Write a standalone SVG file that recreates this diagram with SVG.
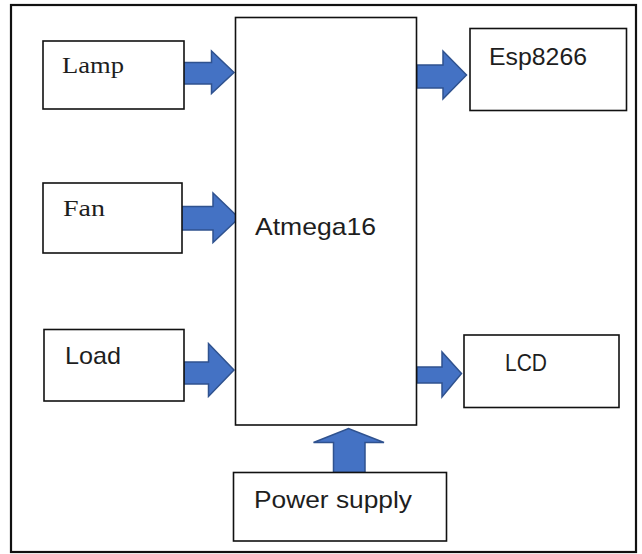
<svg xmlns="http://www.w3.org/2000/svg" width="642" height="554" viewBox="0 0 642 554">
<defs>
<style>
.box{fill:#fff;stroke:#111;stroke-width:1.6}
.frame{fill:#fff;stroke:#111;stroke-width:2.2}
.arr{fill:#4472C4;stroke:#2F528F;stroke-width:1.5;stroke-linejoin:miter}
.serif{font-family:"Liberation Serif","Times New Roman",serif;font-size:24px;fill:#1e1e1e}
.sans{font-family:"Liberation Sans",Arial,sans-serif;font-size:24px;fill:#1e1e1e}
</style>
</defs>
<rect width="642" height="554" fill="#fff"/>
<rect class="frame" x="11" y="5" width="625" height="547"/>
<g id="connectors">
<path class="arr" d="M181,62.5 H211.5 V51 L234,72.5 L211.5,93.5 V84 H181 Z"/>
<path class="arr" d="M178,206.5 H213 V193 L239,218 L213,242.5 V230 H178 Z"/>
<path class="arr" d="M184,362 H208.5 V343.5 L234,370 L208.5,396.5 V384 H184 Z"/>
<path class="arr" d="M417,65 H443 V51 L466.5,75 L443,99 V88 H417 Z"/>
<path class="arr" d="M417,367 H442 V352 L461.5,373.5 L442,397 V383 H417 Z"/>
<path class="arr" d="M333.5,472.5 V442.5 H313.5 L348.5,428.5 L384,442.5 H365 V472.5 Z"/>
</g>
<g id="atmega16">
<rect class="box" x="235.5" y="17.5" width="181" height="407.5"/>
<text class="sans" x="255" y="234.5" textLength="121" lengthAdjust="spacingAndGlyphs">Atmega16</text>
</g>
<g id="lamp">
<rect class="box" x="43" y="41" width="141" height="68"/>
<text class="serif" x="62" y="73" textLength="62" lengthAdjust="spacingAndGlyphs">Lamp</text>
</g>
<g id="fan">
<rect class="box" x="43" y="183" width="139" height="70"/>
<text class="serif" x="63" y="216" textLength="42" lengthAdjust="spacingAndGlyphs">Fan</text>
</g>
<g id="load">
<rect class="box" x="44" y="329.5" width="140" height="71.5"/>
<text class="sans" x="65" y="364" textLength="56" lengthAdjust="spacingAndGlyphs">Load</text>
</g>
<g id="esp8266">
<rect class="box" x="470" y="28.5" width="156.5" height="82"/>
<text class="sans" x="489" y="65" font-size="22" textLength="98" lengthAdjust="spacingAndGlyphs">Esp8266</text>
</g>
<g id="lcd">
<rect class="box" x="464" y="335" width="155" height="72.5"/>
<text class="sans" x="505" y="370.5" textLength="42" lengthAdjust="spacingAndGlyphs">LCD</text>
</g>
<g id="power-supply">
<rect class="box" x="233.5" y="472.5" width="213" height="68.5"/>
<text class="sans" x="254" y="507.5" textLength="158" lengthAdjust="spacingAndGlyphs">Power supply</text>
</g>
</svg>
